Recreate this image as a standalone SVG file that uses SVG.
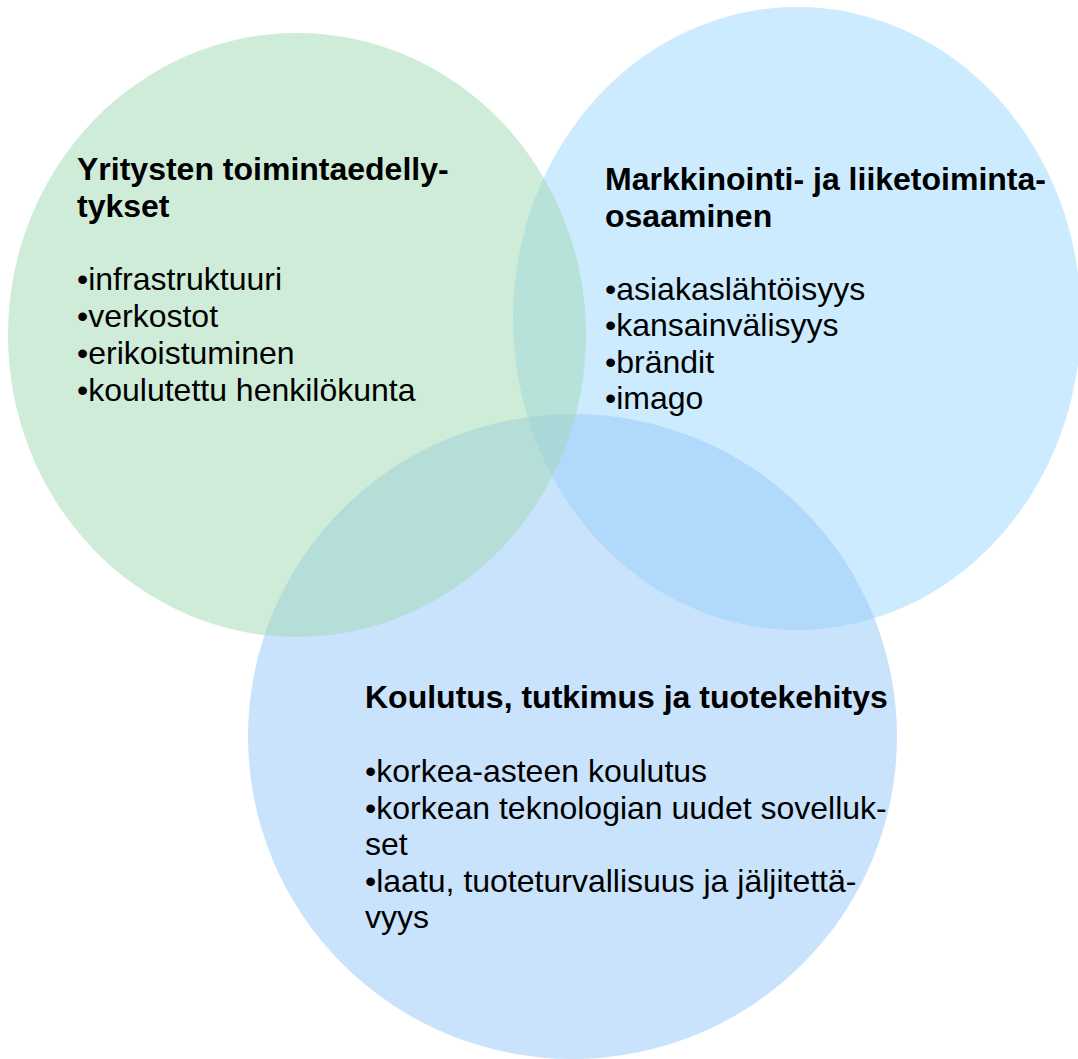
<svg xmlns="http://www.w3.org/2000/svg" width="1078" height="1059" viewBox="0 0 1078 1059">
<style>
.t{font-family:"Liberation Sans",Arial,sans-serif;font-size:32px;fill:#000}
.b{font-weight:bold}
</style>
<rect width="1078" height="1059" fill="#fff"/>
<g id="circle-marketing"><ellipse cx="797" cy="318.5" rx="284" ry="311.5" fill="rgb(153,215,253)" fill-opacity="0.5"/></g>
<g id="circle-education"><ellipse cx="572.5" cy="736.5" rx="324.5" ry="322.5" fill="rgb(149,199,249)" fill-opacity="0.5"/></g>
<g id="circle-business"><ellipse cx="297" cy="335" rx="289" ry="302" fill="rgb(159,217,179)" fill-opacity="0.5"/></g>
<g id="text-business" class="t">
<text class="t b" x="77" y="180">Yritysten toimintaedelly-</text>
<text class="t b" x="77" y="217">tykset</text>
<text class="t" x="77" y="290">•infrastruktuuri</text>
<text class="t" x="77" y="327">•verkostot</text>
<text class="t" x="77" y="364">•erikoistuminen</text>
<text class="t" x="77" y="401">•koulutettu henkilökunta</text>
</g>
<g id="text-marketing">
<text class="t b" x="605" y="190">Markkinointi- ja liiketoiminta-</text>
<text class="t b" x="605" y="226.5">osaaminen</text>
<text class="t" x="605" y="299.5">•asiakaslähtöisyys</text>
<text class="t" x="605" y="336">•kansainvälisyys</text>
<text class="t" x="605" y="372.5">•brändit</text>
<text class="t" x="605" y="409">•imago</text>
</g>
<g id="text-education">
<text class="t b" x="365" y="708">Koulutus, tutkimus ja tuotekehitys</text>
<text class="t" x="365" y="782">•korkea-asteen koulutus</text>
<text class="t" x="365" y="818.5">•korkean teknologian uudet sovelluk-</text>
<text class="t" x="365" y="855">set</text>
<text class="t" x="365" y="891.5">•laatu, tuoteturvallisuus ja jäljitettä-</text>
<text class="t" x="365" y="928">vyys</text>
</g>
<g id="connectors"></g>
</svg>
